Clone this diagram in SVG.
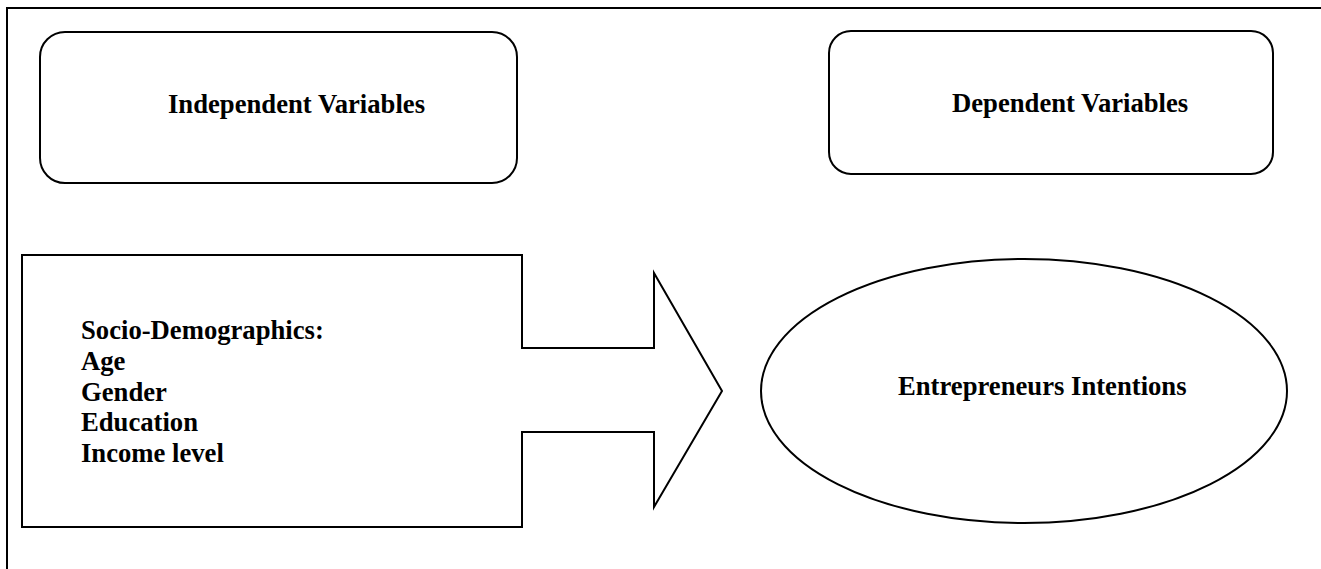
<svg xmlns="http://www.w3.org/2000/svg" width="1321" height="569" viewBox="0 0 1321 569">
  <style>
    .shape { fill: #ffffff; stroke: #000000; stroke-width: 2; }
    .label { font-family: "Liberation Serif", "Times New Roman", serif; font-weight: bold; font-size: 26.67px; fill: #000000; }
    .frame { stroke: #000000; stroke-width: 2; fill: none; }
  </style>
  <rect width="1321" height="569" fill="#ffffff"/>
  <path class="frame" d="M7,569 L7,8 L1321,8"/>
  <g id="connectors"></g>
  <g id="independent-variables">
    <rect class="shape" x="40" y="32" width="477" height="151" rx="25" ry="25"/>
    <text class="label" x="168" y="113">Independent Variables</text>
  </g>
  <g id="dependent-variables">
    <rect class="shape" x="829" y="31" width="444" height="143" rx="22" ry="22"/>
    <text class="label" x="952" y="112">Dependent Variables</text>
  </g>
  <g id="socio-demographics">
    <path class="shape" d="M22,255 L522,255 L522,348 L654,348 L654,273 L722,391 L654,507 L654,432 L522,432 L522,527 L22,527 Z"/>
    <text class="label" x="81" y="339">Socio-Demographics:</text>
    <text class="label" x="81" y="370">Age</text>
    <text class="label" x="81" y="401">Gender</text>
    <text class="label" x="81" y="431">Education</text>
    <text class="label" x="81" y="462">Income level</text>
  </g>
  <g id="entrepreneurs-intentions">
    <ellipse class="shape" cx="1024" cy="391" rx="263" ry="132"/>
    <text class="label" x="898" y="395">Entrepreneurs Intentions</text>
  </g>
</svg>
